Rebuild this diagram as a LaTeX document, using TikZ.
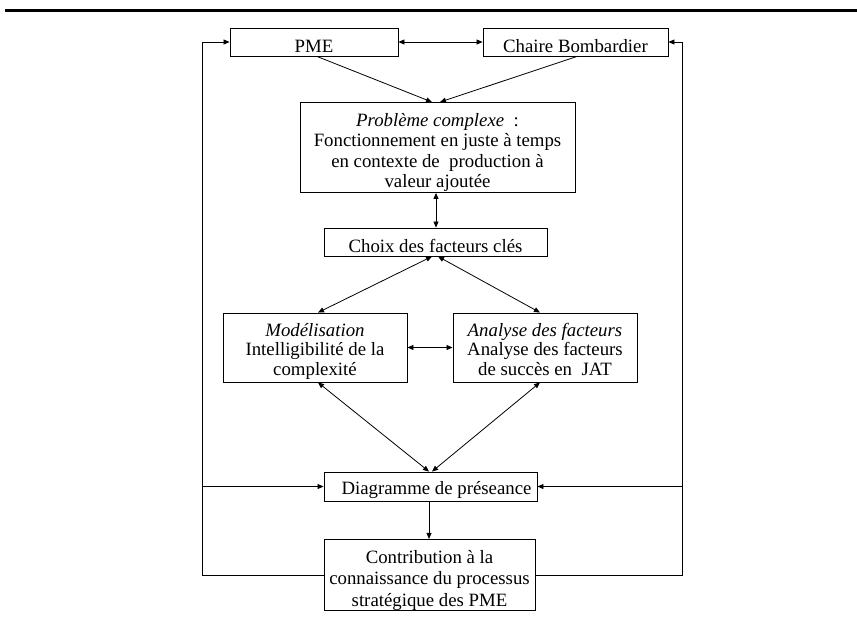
\documentclass[tikz,border=0pt]{standalone}
\usepackage{fontspec}
\setmainfont{Liberation Serif}
\usetikzlibrary{arrows.meta}
\newcommand\vstrut[2]{\vrule width 0pt height #1pt depth #2pt\relax}
\newcommand\nolsk{\lineskiplimit=-100pt\relax\lineskip=0pt\relax}
\begin{document}
\begin{tikzpicture}[x=1pt,y=-1pt,
  box/.style={draw,line width=0.9pt,inner sep=0pt,align=center,
    font=\fontsize{18.8}{20.4}\selectfont\nolsk},
  tight/.style={font=\fontsize{18.8}{19.4}\selectfont\nolsk},
  loose/.style={font=\fontsize{18.8}{21.4}\selectfont\nolsk},
  conn/.style={line width=0.8pt,{Triangle[length=6pt,width=5pt]}-{Triangle[length=6pt,width=5pt]}},
  one/.style={line width=0.8pt,-{Triangle[length=6pt,width=5pt]}}]
\useasboundingbox (0,0) rectangle (857,622);
\draw[line width=3pt] (5,10.5) -- (857,10.5);

\node[box,minimum width=168pt,minimum height=28pt] (pme) at (314,42) {\vstrut{22}{1.4}PME};
\node[box,minimum width=185pt,minimum height=28pt] (chaire) at (575.5,42) {\vstrut{22}{1.4}Chaire Bombardier};
\node[box,minimum width=275pt,minimum height=89pt] (prob) at (437.5,147.5)
  {\vstrut{24}{0}\textit{Problème complexe}\ \ :\\ Fonctionnement en juste à temps\\ en contexte de\ \ production à\\ valeur ajoutée\vstrut{0}{4.8}};
\node[box,minimum width=223pt,minimum height=28pt] (choix) at (435.5,242) {\vstrut{22}{1.4}Choix des facteurs clés};
\node[box,tight,minimum width=184pt,minimum height=69pt] (model) at (315,347.5)
  {\vstrut{21.5}{0}\textit{Modélisation}\\ Intelligibilité de la\\ complexité\vstrut{0}{4.7}};
\node[box,tight,minimum width=184pt,minimum height=69pt] (analyse) at (545,347.5)
  {\vstrut{21.5}{0}\textit{Analyse des facteurs}\\ Analyse des facteurs\\ de succès en\ \ JAT\vstrut{0}{4.7}};
\node[box,minimum width=213pt,minimum height=29pt] (diag) at (430.5,486.5) {\vstrut{20.7}{4.3}\hspace*{12pt}Diagramme de préseance};
\node[box,loose,minimum width=211pt,minimum height=70pt] (contrib) at (429.5,575)
  {\vstrut{23.9}{0}Contribution à la\\ connaissance du processus\\ stratégique des PME\vstrut{0}{4.5}};

\coordinate (L) at (202,0);
\coordinate (R) at (682,0);

\draw[conn] (pme.east) -- (chaire.west);
\draw[one] ([xshift=3pt]pme.south) -- ([xshift=-5.5pt]prob.north);
\draw[one] ([xshift=1.5pt]chaire.south) -- ([xshift=2.5pt]prob.north);
\draw[conn] ([xshift=-1.5pt]prob.south) -- ([xshift=0.5pt]choix.north);
\draw[conn] ([xshift=-3.5pt]choix.south) -- ([xshift=3pt]model.north);
\draw[conn] ([xshift=2.5pt]choix.south) -- ([xshift=-5pt]analyse.north);
\draw[conn] (model.east) -- (analyse.west);
\draw[conn] ([xshift=3pt]model.south) -- ([xshift=-1.5pt]diag.north);
\draw[conn] ([xshift=-5pt]analyse.south) -- ([xshift=1.5pt]diag.north);
\draw[one] ([xshift=-1.5pt]diag.south) -- ([xshift=-0.5pt]contrib.north);

\draw[one] (contrib.west) -- (L |- contrib.west) -- (L |- pme.west) -- (pme.west);
\draw[one] (contrib.east) -- (R |- contrib.east) -- (R |- chaire.east) -- (chaire.east);
\draw[one] (L |- diag.west) -- (diag.west);
\draw[one] (R |- diag.east) -- (diag.east);
\end{tikzpicture}
\end{document}
